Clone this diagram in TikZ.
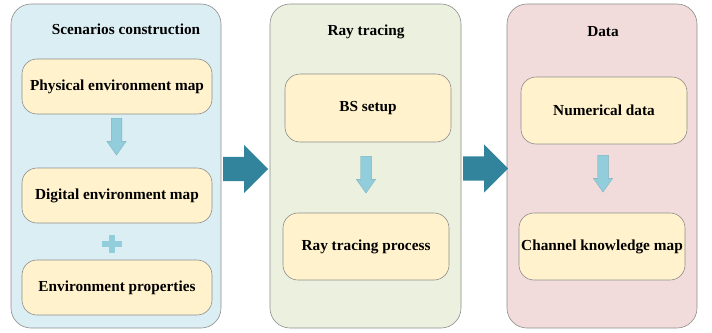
\documentclass[tikz,border=0pt]{standalone}
\usepackage{fontspec}
\setmainfont{Liberation Serif}
\usetikzlibrary{shapes.arrows}
\definecolor{scenbg}{HTML}{DBEEF4}
\definecolor{raybg}{HTML}{EBF1DE}
\definecolor{databg}{HTML}{F2DCDB}
\definecolor{boxyellow}{HTML}{FFF2CC}
\definecolor{linegray}{HTML}{8C8C8C}
\definecolor{arrowblue}{HTML}{92CDDC}
\definecolor{flowteal}{HTML}{31849B}
\tikzset{
  panel/.style={draw=linegray, rounded corners=20pt, line width=0.6pt},
  stepbox/.style={draw=linegray, fill=boxyellow, rounded corners=15pt, line width=0.6pt,
    font=\bfseries\fontsize{15.3}{18}\selectfont, align=center, inner sep=0pt},
  title/.style={font=\bfseries\fontsize{15.3}{18}\selectfont},
  downarrow/.style={single arrow, shape border rotate=270, fill=arrowblue, draw=arrowblue!85!black,
    line width=0.3pt, minimum height=37pt, minimum width=19pt, single arrow head extend=4.3pt,
    single arrow tip angle=70, inner xsep=5.2pt, inner ysep=0pt, anchor=tail},
  flowarrow/.style={single arrow, fill=flowteal, minimum height=45pt, minimum width=48pt,
    single arrow head extend=12pt, inner xsep=0pt, inner ysep=12pt, anchor=tail}
}
\begin{document}
\begin{tikzpicture}[x=1pt,y=-1pt]
\useasboundingbox (0,0) rectangle (712,332);
% scenarios construction
\node[panel, fill=scenbg, minimum width=210pt, minimum height=324pt] (scen) at (116,166) {};
\node[title] (scentitle) at (126,29) {Scenarios construction};
\node[stepbox, minimum width=190pt, minimum height=55pt] (phys) at (117,86.5) {Physical environment map};
\node[downarrow] (arrphys) at (116.5,118) {};
\node[stepbox, minimum width=190pt, minimum height=55pt] (digi) at (117,195.5) {Digital environment map};
\coordinate (plus) at (112,244);
\fill[arrowblue] ([shift={(-10,-3)}]plus) rectangle ([shift={(10,3)}]plus);
\fill[arrowblue] ([shift={(-3,-9)}]plus) rectangle ([shift={(3,9)}]plus);
\node[stepbox, minimum width=190pt, minimum height=55pt] (envp) at (117,287.5) {Environment properties};
% ray tracing
\node[panel, fill=raybg, minimum width=191pt, minimum height=324pt] (ray) at (365.5,166) {};
\node[title] (raytitle) at (366,32) {Ray tracing};
\node[stepbox, minimum width=166pt, minimum height=68pt] (bs) at (368,108) {BS setup};
\node[downarrow] (arrbs) at (366,156) {};
\node[stepbox, minimum width=166pt, minimum height=67pt] (rtp) at (366,246.5) {Ray tracing process};
% data
\node[panel, fill=databg, minimum width=190pt, minimum height=324pt] (data) at (602,166) {};
\node[title] (datatitle) at (603,32) {Data};
\node[stepbox, minimum width=166pt, minimum height=67pt] (num) at (604,110.5) {Numerical data};
\node[downarrow] (arrnum) at (603,155) {};
\node[stepbox, minimum width=166pt, minimum height=67pt] (ckm) at (602,246.5) {Channel knowledge map};
% flow between panels
\node[flowarrow] (flowone) at (223,169) {};
\node[flowarrow] (flowtwo) at (463,168.5) {};
\end{tikzpicture}
\end{document}
